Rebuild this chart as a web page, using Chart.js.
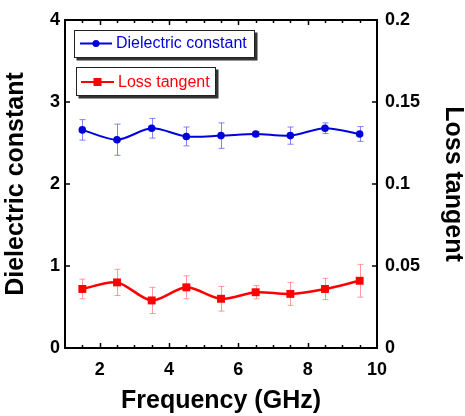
<!DOCTYPE html>
<html>
<head>
<meta charset="utf-8">
<script src="https://cdn.jsdelivr.net/npm/chart.js@4/dist/chart.umd.min.js"></script>
<style>
  html, body { margin: 0; padding: 0; background: #fff; }
  #wrap { width: 465px; height: 416px; }
</style>
</head>
<body>
<div id="wrap"><canvas id="chart" width="465" height="416"></canvas></div>
<script>
// values
const frequency = [1.5, 2.5, 3.5, 4.5, 5.5, 6.5, 7.5, 8.5, 9.5];
const dielectricConstant = [2.66, 2.54, 2.68, 2.58, 2.59, 2.61, 2.59, 2.68, 2.61];
const dielectricError = [0.125, 0.19, 0.12, 0.115, 0.155, 0.03, 0.105, 0.065, 0.09];
const lossTangent = [0.036, 0.040, 0.029, 0.037, 0.030, 0.034, 0.033, 0.036, 0.041];
const lossError = [0.006, 0.008, 0.008, 0.007, 0.0075, 0.004, 0.007, 0.0065, 0.010];

const xTicks = [2, 4, 6, 8, 10];
const leftTicks = [0, 1, 2, 3, 4];
const rightTicks = [0, 0.05, 0.1, 0.15, 0.2];
const rightTickLabels = ['0', '0.05', '0.1', '0.15', '0.2'];

const FONT = "'Liberation Sans', Arial, sans-serif";
const BLUE = '#0000dd';
const RED = '#ff0000';

Chart.defaults.font.family = FONT;
Chart.defaults.color = '#000';

const toPoints = (xs, ys) => xs.map((x, i) => ({ x: x, y: ys[i] }));

// error bars under the lines
const errorBarPlugin = {
    id: 'errorBars',
    beforeDatasetsDraw(chart) {
        const ctx = chart.ctx;
        const xs = chart.scales.x;
        chart.data.datasets.forEach(ds => {
            const ys = chart.scales[ds.yAxisID];
            ctx.save();
            ctx.strokeStyle = ds.errorColor;
            ctx.lineWidth = 1;
            ctx.beginPath();
            ds.data.forEach((p, j) => {
                const e = ds.errors[j];
                const px = Math.round(xs.getPixelForValue(p.x)) + 0.5;
                const top = ys.getPixelForValue(p.y + e);
                const bot = ys.getPixelForValue(p.y - e);
                ctx.moveTo(px, top); ctx.lineTo(px, bot);
                ctx.moveTo(px - 3, top); ctx.lineTo(px + 3, top);
                ctx.moveTo(px - 3, bot); ctx.lineTo(px + 3, bot);
            });
            ctx.stroke();
            ctx.restore();
        });
    }
};

// box frame and inward tick marks
const framePlugin = {
    id: 'frame',
    afterDraw(chart) {
        const { ctx, chartArea: a } = chart;
        const { x, y, y1 } = chart.scales;
        ctx.save();
        ctx.strokeStyle = '#000';
        ctx.lineWidth = 1.5;
        ctx.beginPath();
        for (let v = 1.5; v < 10; v += 0.5) {
            const px = Math.round(x.getPixelForValue(v)) + 0.5;
            const len = xTicks.includes(v) ? 5 : 3;
            ctx.moveTo(px, a.bottom); ctx.lineTo(px, a.bottom - len);
            ctx.moveTo(px, a.top); ctx.lineTo(px, a.top + len);
        }
        leftTicks.forEach(v => {
            const py = y.getPixelForValue(v);
            ctx.moveTo(a.left, py); ctx.lineTo(a.left + 5, py);
        });
        rightTicks.forEach(v => {
            const py = y1.getPixelForValue(v);
            ctx.moveTo(a.right, py); ctx.lineTo(a.right - 5, py);
        });
        ctx.stroke();
        ctx.lineWidth = 2;
        ctx.strokeRect(a.left, a.top, a.right - a.left, a.bottom - a.top);
        ctx.restore();
    }
};

// two separate legend boxes with drop shadow
const legendPlugin = {
    id: 'boxLegend',
    afterDraw(chart) {
        const ctx = chart.ctx;
        const items = [
            { ds: chart.data.datasets[0], box: [74, 30, 181, 28], line: [80, 112, 43.5], textX: 116 },
            { ds: chart.data.datasets[1], box: [76, 67, 140, 29], line: [81, 114, 82], textX: 118 }
        ];
        ctx.save();
        items.forEach(it => {
            const [bx, by, bw, bh] = it.box;
            ctx.fillStyle = '#333';
            ctx.fillRect(bx + 2.5, by + 2.5, bw, bh);
            ctx.fillStyle = '#fff';
            ctx.fillRect(bx, by, bw, bh);
            ctx.strokeStyle = '#222';
            ctx.lineWidth = 1;
            ctx.strokeRect(bx + 0.5, by + 0.5, bw - 1, bh - 1);

            const [x0, x1, ly] = it.line;
            ctx.strokeStyle = it.ds.borderColor;
            ctx.lineWidth = 2;
            ctx.beginPath();
            ctx.moveTo(x0, ly); ctx.lineTo(x1, ly);
            ctx.stroke();
            const cx = (x0 + x1) / 2;
            ctx.fillStyle = it.ds.borderColor;
            if (it.ds.pointStyle === 'rect') {
                ctx.fillRect(cx - 4, ly - 4, 8, 8);
            } else {
                ctx.beginPath();
                ctx.arc(cx, ly, 3.5, 0, Math.PI * 2);
                ctx.fill();
            }
            ctx.font = '16px ' + FONT;
            ctx.textBaseline = 'middle';
            ctx.textAlign = 'left';
            ctx.fillText(it.ds.label, it.textX, ly + 0.5);
        });
        ctx.restore();
    }
};

const tickFont = { size: 18, weight: 'bold' };
const titleFont = { size: 25, weight: 'bold', lineHeight: 1 };

new Chart(document.getElementById('chart'), {
    type: 'line',
    data: {
        datasets: [
            {
                label: 'Dielectric constant',
                data: toPoints(frequency, dielectricConstant),
                errors: dielectricError,
                errorColor: 'rgba(90, 90, 255, 0.75)',
                yAxisID: 'y',
                borderColor: BLUE,
                backgroundColor: BLUE,
                borderWidth: 2,
                pointStyle: 'circle',
                pointRadius: 3.8,
                pointBorderWidth: 0,
                tension: 0.3
            },
            {
                label: 'Loss tangent',
                data: toPoints(frequency, lossTangent),
                errors: lossError,
                errorColor: 'rgba(255, 120, 120, 0.75)',
                yAxisID: 'y1',
                borderColor: RED,
                backgroundColor: RED,
                borderWidth: 2.5,
                pointStyle: 'rect',
                pointRadius: 5.6,
                pointBorderWidth: 0,
                tension: 0.3
            }
        ]
    },
    options: {
        responsive: false,
        animation: false,
        layout: { padding: { top: 20, left: 0, right: 0, bottom: 0 } },
        plugins: {
            legend: { display: false },
            tooltip: { enabled: false }
        },
        scales: {
            x: {
                type: 'linear',
                min: 1,
                max: 10,
                grid: { display: false, drawTicks: false },
                border: { display: false },
                afterBuildTicks: s => { s.ticks = xTicks.map(v => ({ value: v })); },
                afterFit: s => { s.height = 68; },
                ticks: { padding: 11, font: tickFont, color: '#000', autoSkip: false, maxRotation: 0 },
                title: { display: true, text: 'Frequency (GHz)', font: titleFont, color: '#000', padding: { top: 0, bottom: 2 } }
            },
            y: {
                position: 'left',
                min: 0,
                max: 4,
                grid: { display: false, drawTicks: false },
                border: { display: false },
                afterBuildTicks: s => { s.ticks = leftTicks.map(v => ({ value: v })); },
                afterFit: s => { s.width = 65; },
                ticks: { padding: 5, font: tickFont, color: '#000' },
                title: { display: true, text: 'Dielectric constant', font: titleFont, color: '#000', padding: { top: 4, bottom: 0 } }
            },
            y1: {
                position: 'right',
                min: 0,
                max: 0.2,
                grid: { display: false, drawTicks: false },
                border: { display: false },
                afterBuildTicks: s => { s.ticks = rightTicks.map(v => ({ value: v })); },
                afterFit: s => { s.width = 88; },
                ticks: {
                    padding: 8,
                    font: tickFont,
                    color: '#000',
                    callback: (v, i) => rightTickLabels[i]
                },
                title: { display: true, text: 'Loss tangent', font: titleFont, color: '#000', padding: { top: 0, bottom: 0 } }
            }
        }
    },
    plugins: [errorBarPlugin, framePlugin, legendPlugin]
});
</script>
</body>
</html>
